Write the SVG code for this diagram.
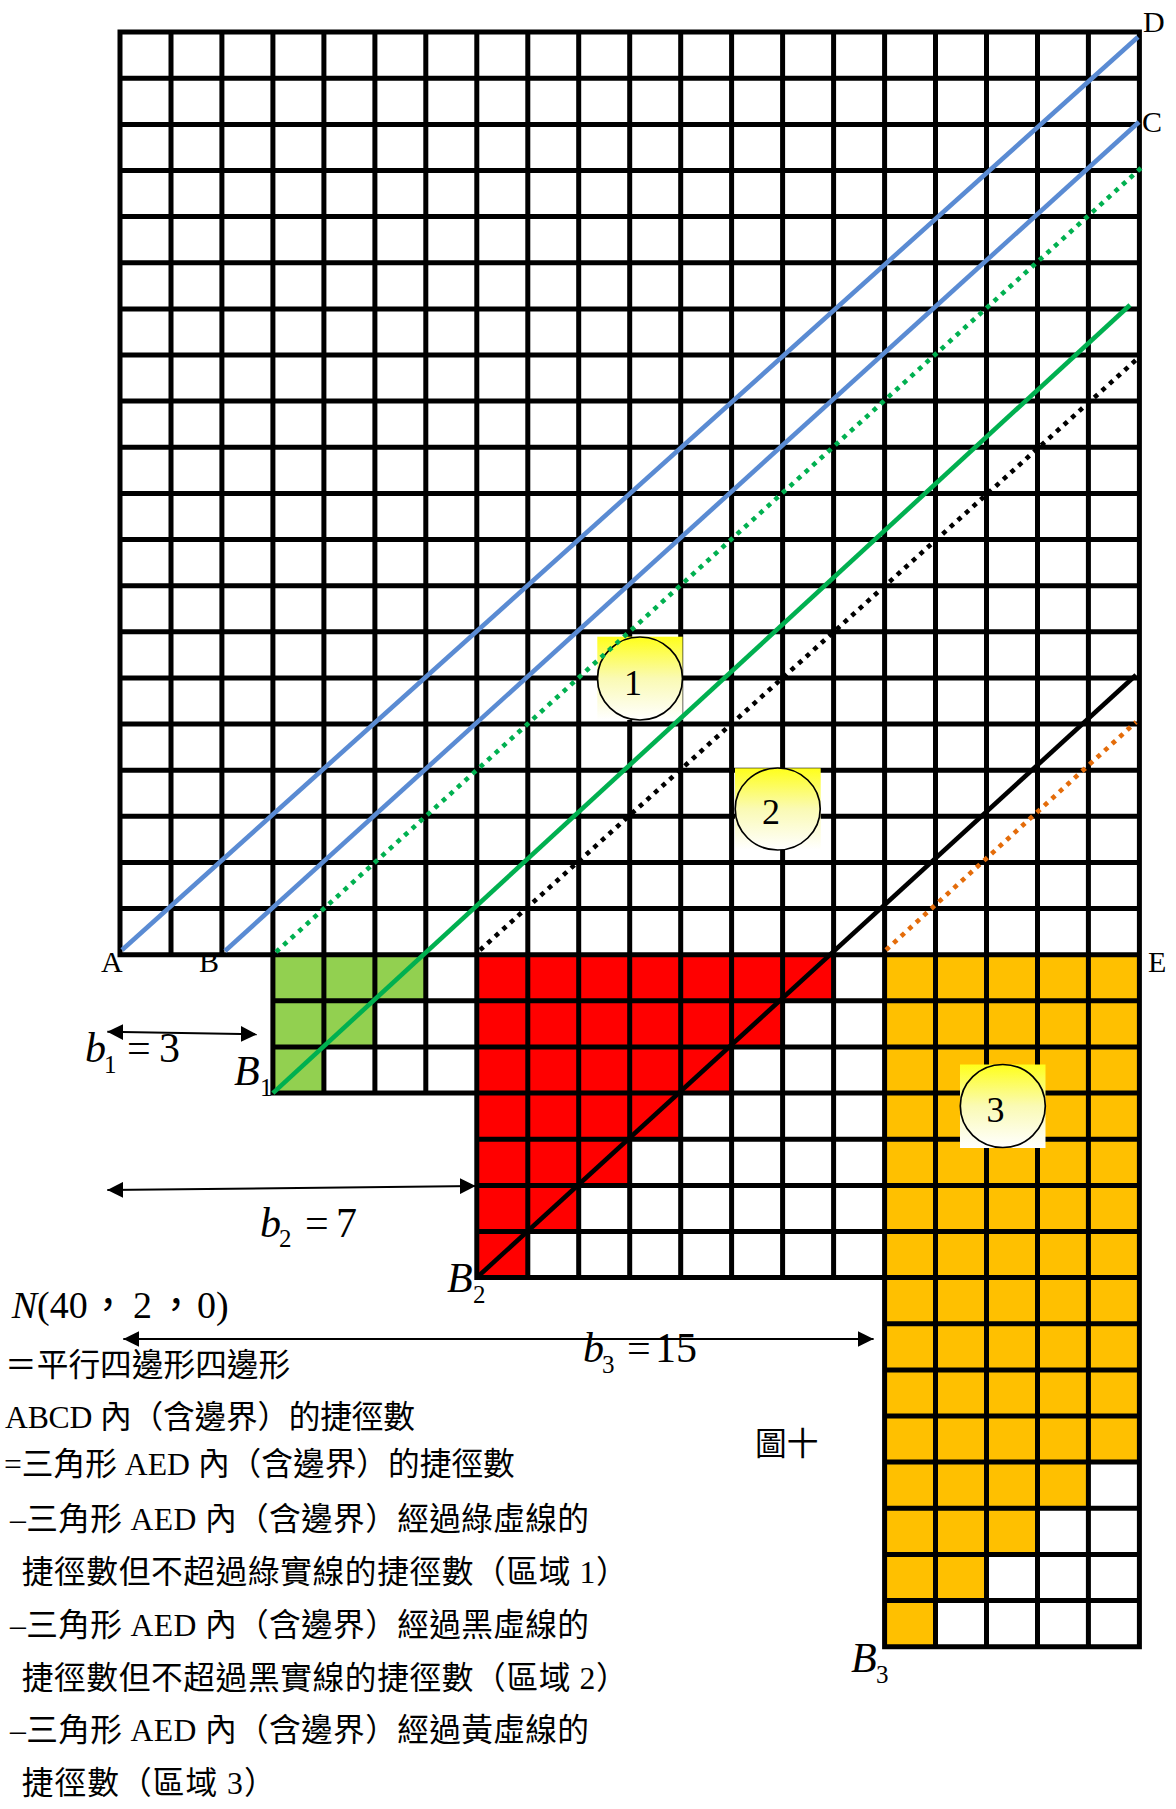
<svg xmlns="http://www.w3.org/2000/svg" width="1176" height="1809" viewBox="0 0 1176 1809">
<style>
.t{font-family:"Liberation Serif","Noto Sans CJK TC",serif;fill:#000}
.cj{font-size:31.7px}
.lab{font-size:30px}
.m{font-size:42px}
.it{font-style:italic}
.sub{font-size:25px}
.grid{fill:none;stroke:#000;stroke-width:5;stroke-linecap:square}
.ln{fill:none;stroke-width:4.6}
.dot{stroke-dasharray:4.6 5.6}
.arr{fill:none;stroke:#000;stroke-width:2;marker-start:url(#ah);marker-end:url(#ah)}
.bub{fill:url(#yg)}
.ell{fill:url(#yg);stroke:#000;stroke-width:1.7}
.num{font-size:36px;text-anchor:middle}
</style>
<defs>
<linearGradient id="yg" x1="0" y1="0" x2="0" y2="1">
<stop offset="0" stop-color="#FFFF1A"/>
<stop offset="0.5" stop-color="#FAFAB4"/>
<stop offset="1" stop-color="#FFFFFF"/>
</linearGradient>
<marker id="ah" markerUnits="userSpaceOnUse" markerWidth="16" markerHeight="16" viewBox="0 0 16 16" refX="16" refY="8" orient="auto-start-reverse">
<path d="M0,0 L16,8 L0,16 z" fill="#000"/>
</marker>
</defs>
<rect width="1176" height="1809" fill="#fff"/>

<g id="fills">
<polygon fill="#92D050" points="272.9,954.7 425.8,954.7 425.8,1000.8 374.9,1000.8 374.9,1047 323.9,1047 323.9,1093.1 272.9,1093.1"/>
<polygon fill="#FF0000" points="476.8,954.7 833.6,954.7 833.6,1000.8 782.6,1000.8 782.6,1047 731.6,1047 731.6,1093.1 680.7,1093.1 680.7,1139.2 629.7,1139.2 629.7,1185.4 578.7,1185.4 578.7,1231.5 527.8,1231.5 527.8,1277.6 476.8,1277.6"/>
<polygon fill="#FFC000" points="884.6,954.7 1139.4,954.7 1139.4,1462.1 1088.4,1462.1 1088.4,1508.3 1037.5,1508.3 1037.5,1554.4 986.5,1554.4 986.5,1600.5 935.5,1600.5 935.5,1646.7 884.6,1646.7"/>
</g>

<g id="grid">
<path class="grid" d="M120,32.1H1139.4 M120,78.2H1139.4 M120,124.4H1139.4 M120,170.5H1139.4 M120,216.6H1139.4 M120,262.8H1139.4 M120,308.9H1139.4 M120,355H1139.4 M120,401.1H1139.4 M120,447.3H1139.4 M120,493.4H1139.4 M120,539.5H1139.4 M120,585.7H1139.4 M120,631.8H1139.4 M120,677.9H1139.4 M120,724.1H1139.4 M120,770.2H1139.4 M120,816.3H1139.4 M120,862.4H1139.4 M120,908.6H1139.4 M120,954.7H1139.4
M120,32.1V954.7 M171,32.1V954.7 M221.9,32.1V954.7 M272.9,32.1V954.7 M323.9,32.1V954.7 M374.9,32.1V954.7 M425.8,32.1V954.7 M476.8,32.1V954.7 M527.8,32.1V954.7 M578.7,32.1V954.7 M629.7,32.1V954.7 M680.7,32.1V954.7 M731.6,32.1V954.7 M782.6,32.1V954.7 M833.6,32.1V954.7 M884.6,32.1V954.7 M935.5,32.1V954.7 M986.5,32.1V954.7 M1037.5,32.1V954.7 M1088.4,32.1V954.7 M1139.4,32.1V954.7
M272.9,1000.8H1139.4 M272.9,1047H1139.4 M272.9,1093.1H1139.4
M476.8,1139.2H1139.4 M476.8,1185.4H1139.4 M476.8,1231.5H1139.4 M476.8,1277.6H1139.4
M884.6,1323.7H1139.4 M884.6,1369.9H1139.4 M884.6,1416H1139.4 M884.6,1462.1H1139.4 M884.6,1508.3H1139.4 M884.6,1554.4H1139.4 M884.6,1600.5H1139.4 M884.6,1646.7H1139.4
M272.9,954.7V1093.1 M323.9,954.7V1093.1 M374.9,954.7V1093.1 M425.8,954.7V1093.1
M476.8,954.7V1277.6 M527.8,954.7V1277.6 M578.7,954.7V1277.6 M629.7,954.7V1277.6 M680.7,954.7V1277.6 M731.6,954.7V1277.6 M782.6,954.7V1277.6 M833.6,954.7V1277.6
M884.6,954.7V1646.7 M935.5,954.7V1646.7 M986.5,954.7V1646.7 M1037.5,954.7V1646.7 M1088.4,954.7V1646.7 M1139.4,954.7V1646.7"/>
</g>

<g id="region1">
<rect class="bub" x="597.3" y="636.7" width="85.3" height="83.3"/>
<ellipse class="ell" cx="640" cy="678.5" rx="42.5" ry="41.5"/>
<text class="t num" x="633" y="695">1</text>
</g>
<g id="region2">
<rect class="bub" x="735" y="768.3" width="85.7" height="81.7"/>
<ellipse class="ell" cx="777.7" cy="809" rx="42.5" ry="41"/>
<text class="t num" x="771" y="824">2</text>
</g>
<g id="region3">
<rect class="bub" x="960" y="1064.5" width="85.5" height="83.5"/>
<ellipse class="ell" cx="1002.8" cy="1106" rx="42.5" ry="41.5"/>
<text class="t num" x="995.5" y="1122">3</text>
</g>

<g id="connectors">
<line class="ln" stroke="#5A8BD3" x1="122" y1="950" x2="1138" y2="37"/>
<line class="ln" stroke="#5A8BD3" x1="225" y1="951" x2="1139" y2="122"/>
<line class="ln dot" stroke="#00B050" x1="276" y1="952" x2="1141" y2="168"/>
<line class="ln" stroke="#00B050" x1="272.9" y1="1093.1" x2="1130" y2="305"/>
<line class="ln dot" stroke="#000" x1="480" y1="950" x2="1136" y2="360"/>
<line class="ln" stroke="#000" stroke-width="4.2" x1="476.8" y1="1277.6" x2="1136" y2="675"/>
<line class="ln dot" stroke="#E46C0A" x1="886" y1="950" x2="1136" y2="722"/>
<line class="arr" x1="107.3" y1="1031.7" x2="256.7" y2="1034.3"/>
<line class="arr" x1="107.3" y1="1190" x2="475.7" y2="1186"/>
<line class="arr" x1="123.3" y1="1339" x2="873.6" y2="1339"/>
</g>

<g id="labels">
<text class="t lab" x="1143" y="31.5">D</text>
<text class="t lab" x="1142" y="131.5">C</text>
<text class="t lab" x="101" y="971.5">A</text>
<text class="t lab" x="199" y="971.5">B</text>
<text class="t lab" x="1148" y="972">E</text>
<text class="t m"><tspan class="it" x="234" y="1085">B</tspan><tspan class="sub" x="260" y="1096">1</tspan></text>
<text class="t m"><tspan class="it" x="447" y="1291.7">B</tspan><tspan class="sub" x="473" y="1303">2</tspan></text>
<text class="t m"><tspan class="it" x="851" y="1671.7">B</tspan><tspan class="sub" x="876" y="1683">3</tspan></text>
<text class="t m"><tspan class="it" x="85" y="1061.7">b</tspan><tspan class="sub" x="104" y="1073">1</tspan><tspan x="127" y="1061.7">=</tspan><tspan x="159" y="1061.7">3</tspan></text>
<text class="t m"><tspan class="it" x="260" y="1236.7">b</tspan><tspan class="sub" x="279" y="1247">2</tspan><tspan x="305" y="1236.7">=</tspan><tspan x="336" y="1236.7">7</tspan></text>
<text class="t m"><tspan class="it" x="583" y="1361.7">b</tspan><tspan class="sub" x="602" y="1373">3</tspan><tspan x="627" y="1361.7">=</tspan><tspan x="655" y="1361.7">15</tspan></text>
</g>

<g id="text">
<text class="t" font-size="38" x="11.7" y="1318"><tspan class="it">N</tspan>(40<tspan x="89">，</tspan><tspan x="133">2</tspan><tspan x="157">，</tspan><tspan x="197">0)</tspan></text>
<text class="t cj" x="5" y="1376">＝平行四邊形四邊形</text>
<text class="t cj" x="5" y="1428" textLength="410">ABCD 內（含邊界）的捷徑數</text>
<text class="t cj" x="4" y="1475">=三角形 AED 內（含邊界）的捷徑數</text>
<text class="t cj" x="10" y="1530" textLength="579">–三角形 AED 內（含邊界）經過綠虛線的</text>
<text class="t cj" x="21.7" y="1583" textLength="606">捷徑數但不超過綠實線的捷徑數（區域 1）</text>
<text class="t cj" x="10" y="1636" textLength="579">–三角形 AED 內（含邊界）經過黑虛線的</text>
<text class="t cj" x="21.7" y="1689" textLength="606">捷徑數但不超過黑實線的捷徑數（區域 2）</text>
<text class="t cj" x="10" y="1741" textLength="579">–三角形 AED 內（含邊界）經過黃虛線的</text>
<text class="t cj" x="21.7" y="1794" textLength="254">捷徑數（區域 3）</text>
<text class="t cj" x="755" y="1455">圖十</text>
</g>
</svg>
